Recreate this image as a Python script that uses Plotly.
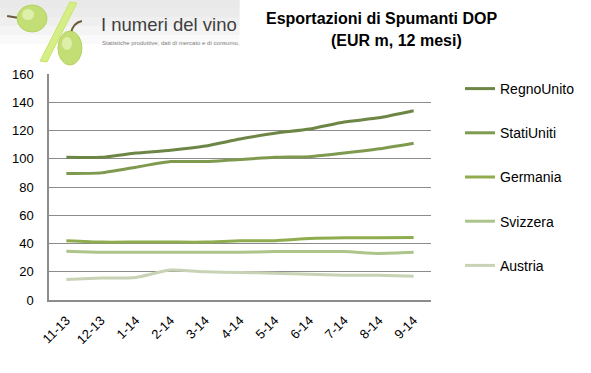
import plotly.graph_objects as go

categories = ["11-13", "12-13", "1-14", "2-14", "3-14", "4-14", "5-14", "6-14", "7-14", "8-14", "9-14"]
regno_unito = [101, 101, 104, 106, 109, 114, 118, 121, 126, 129, 134]
stati_uniti = [89.5, 90, 94, 98, 98, 99.5, 101, 101.5, 104, 107, 111]
germania = [42, 41, 41, 41, 41, 42, 42, 43.5, 44, 44, 44.3]
svizzera = [34.5, 33.8, 33.8, 33.8, 33.8, 33.8, 34.3, 34.3, 34.3, 33, 33.8]
austria = [14.6, 15.5, 16, 21.2, 20, 19.5, 19, 18.2, 17.5, 17.5, 16.8]

series_names = ["RegnoUnito", "StatiUniti", "Germania", "Svizzera", "Austria"]
series_values = [regno_unito, stati_uniti, germania, svizzera, austria]
colors = ["#6e8645", "#7f9a4f", "#8fad4f", "#adc48a", "#c8d3b5"]
y_ticks = [0, 20, 40, 60, 80, 100, 120, 140, 160]

W, H = 591, 373
L, R, T, B = 49, 432, 74, 300

def px(x):
    return (x - L) / (R - L)

def py(y):
    return (B - y) / (B - T)

fig = go.Figure()
for i, (name, vals, col) in enumerate(zip(series_names, series_values, colors)):
    fig.add_trace(go.Scatter(
        x=categories, y=vals, name=name, mode="lines",
        line=dict(color=col, width=3, shape="spline", smoothing=0.5),
        legendgroup=f"g{i}",
    ))

shapes = []
# logo background (fading grey)
for k, op in enumerate([0.35, 0.35, 0.3, 0.25, 0.2]):
    shapes.append(dict(type="rect", xref="paper", yref="paper",
                       x0=px(0), x1=px(240), y0=py(8 + k * 9), y1=py(0),
                       fillcolor="#e4e4e4", opacity=op, line=dict(width=0), layer="below"))
# stems
shapes.append(dict(type="line", xref="paper", yref="paper", x0=px(7), y0=py(16), x1=px(19), y1=py(18),
                   line=dict(color="#6b5a3a", width=2)))
shapes.append(dict(type="path", xref="paper", yref="paper",
                   path=f"M {px(71)},{py(33)} Q {px(73)},{py(23)} {px(82)},{py(21)}",
                   line=dict(color="#6b5a3a", width=2)))
# grapes
shapes.append(dict(type="circle", xref="paper", yref="paper", x0=px(17), x1=px(47), y0=py(32), y1=py(5),
                   fillcolor="#c3de74", line=dict(color="#b5d160", width=1)))
shapes.append(dict(type="circle", xref="paper", yref="paper", x0=px(58), x1=px(82), y0=py(65), y1=py(31),
                   fillcolor="#c3de74", line=dict(color="#b5d160", width=1)))
shapes.append(dict(type="circle", xref="paper", yref="paper", x0=px(22), x1=px(34), y0=py(20), y1=py(9),
                   fillcolor="#e4f2b6", line=dict(width=0), opacity=0.8))
shapes.append(dict(type="circle", xref="paper", yref="paper", x0=px(62), x1=px(72), y0=py(50), y1=py(37),
                   fillcolor="#e4f2b6", line=dict(width=0), opacity=0.8))
# slash
shapes.append(dict(type="path", xref="paper", yref="paper",
                   path=(f"M {px(70)},{py(2)} L {px(77)},{py(3)} L {px(47)},{py(62)} "
                         f"L {px(40)},{py(61)} Z"),
                   fillcolor="#d6ee86", line=dict(color="#c9e46e", width=1)))

annotations = [
    dict(text="I numeri del vino", x=px(99), y=py(24), xref="paper", yref="paper",
         xanchor="left", yanchor="middle", showarrow=False,
         font=dict(family="Liberation Sans, Arial, sans-serif", size=18.5, color="#3f3f3f")),
    dict(text="Statistiche produttive, dati di mercato e di consumo,", x=px(100), y=py(43),
         xref="paper", yref="paper", xanchor="left", yanchor="middle", showarrow=False,
         font=dict(family="Liberation Sans, Arial, sans-serif", size=6, color="#808080")),
    dict(text="<b>Esportazioni di Spumanti DOP</b>", x=px(382), y=py(19), xref="paper", yref="paper",
         xanchor="center", yanchor="middle", showarrow=False,
         font=dict(family="Liberation Sans, Arial, sans-serif", size=16, color="#000000")),
    dict(text="<b>(EUR m, 12 mesi)</b>", x=px(397), y=py(40), xref="paper", yref="paper",
         xanchor="center", yanchor="middle", showarrow=False,
         font=dict(family="Liberation Sans, Arial, sans-serif", size=16, color="#000000")),
]

fig.update_layout(
    width=W, height=H,
    margin=dict(l=L, r=W - R, t=T, b=H - B, pad=0),
    paper_bgcolor="white", plot_bgcolor="white",
    font=dict(family="Liberation Sans, Arial, sans-serif", size=13, color="#000000"),
    shapes=shapes, annotations=annotations,
    showlegend=True,
    legend=dict(x=px(460), y=py(73), xref="paper", yref="paper", xanchor="left", yanchor="top",
                traceorder="grouped", tracegroupgap=23, font=dict(size=14, color="#000000"),
                bgcolor="rgba(0,0,0,0)", itemwidth=30, maxheight=360),
    xaxis=dict(type="category", categoryorder="array", categoryarray=categories,
               range=[-0.5, len(categories) - 0.5], showgrid=False, zeroline=False,
               showline=True, linecolor="#8c8c8c", linewidth=1.5, ticks="",
               tickangle=-45, tickfont=dict(size=13), ticklabelstandoff=6, fixedrange=True),
    yaxis=dict(range=[0, 160], tickvals=y_ticks, ticktext=[str(v) for v in y_ticks],
               showgrid=True, gridcolor="#8c8c8c", gridwidth=1, zeroline=False,
               showline=True, linecolor="#8c8c8c", linewidth=1.5, ticks="",
               tickfont=dict(size=13), ticklabelstandoff=11, fixedrange=True),
)

fig.write_html("out.html", config={"displayModeBar": False},
               post_script="document.body.style.margin='0px';")
